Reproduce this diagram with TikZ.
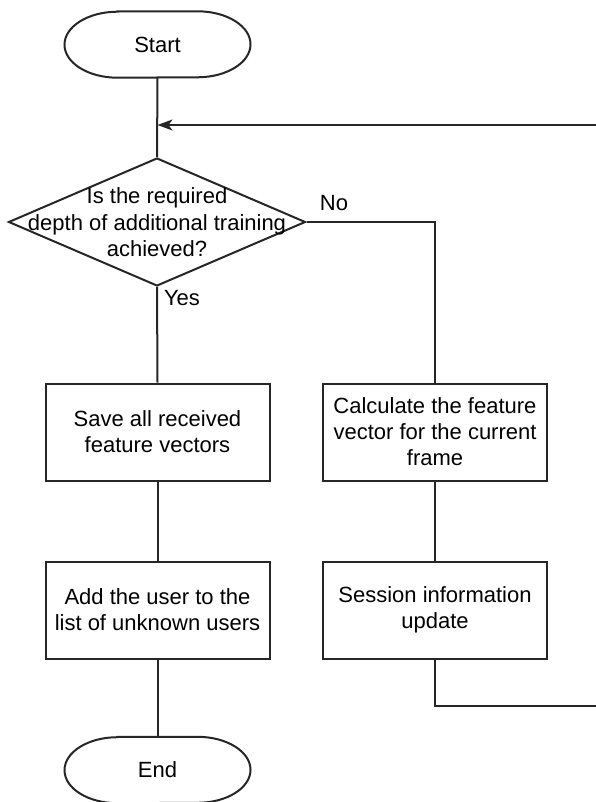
\documentclass[tikz,border=0pt]{standalone}
\usepackage{fontspec}
\setmainfont{Liberation Sans}
\usetikzlibrary{arrows.meta,shapes.geometric}
\begin{document}
\begin{tikzpicture}[x=1pt,y=-1pt,
  line/.style={line width=2pt,draw=black!85},
  term/.style={minimum width=186pt, minimum height=66pt, inner sep=0pt,
    font=\fontsize{22}{26}\selectfont},
  procbox/.style={line, minimum width=224pt, minimum height=97pt, inner sep=0pt, align=center,
    font=\fontsize{22}{26}\selectfont},
  lbl/.style={font=\fontsize{22}{26}\selectfont, inner sep=0pt},
  arr/.style={line, -{Stealth[length=15pt,width=11pt,inset=4pt]}}
]
\useasboundingbox (0,0) rectangle (595,802);
\newcommand\termshape[1]{%
  \draw[line] ([xshift=-40pt]#1.north) -- ([xshift=40pt]#1.north)
    arc[start angle=90,end angle=-90,x radius=53pt,y radius=33pt]
    -- ([xshift=-40pt]#1.south)
    arc[start angle=270,end angle=90,x radius=53pt,y radius=33pt] -- cycle;}
\node[term] (start) at (157.5,44.5) {Start};
\termshape{start}
\coordinate (m) at (157.5,125);
\node[line, diamond, minimum width=297pt, minimum height=128pt, inner sep=0pt] (d) at (157,222) {};
\node[align=center, font=\fontsize{22}{26.5}\selectfont, inner sep=0pt] (dt) at (157,222.5) {Is the required\\depth of additional training\\achieved?};
\node[procbox] (a1) at (157.5,432) {Save all received\\feature vectors};
\node[procbox] (a2) at (157.5,610) {Add the user to the\\list of unknown users};
\node[procbox] (b1) at (435,432) {Calculate the feature\\vector for the current\\frame};
\node[procbox] (b2) at (435,610) {Session information\\update};
\node[term] (end) at (157.5,770) {End};
\termshape{end}
\node[lbl] (no) at (334,203) {No};
\node[lbl] (yes) at (182,298) {Yes};
\coordinate (c1) at (435,706);
\coordinate (c2) at (597,706);
\coordinate (c3) at (597,125);

\draw[line] (start.south) -- (d.north);
\draw[line] (d.south) -- (a1.north);
\draw[line] (a1.south) -- (a2.north);
\draw[line] (a2.south) -- (end.north);
\draw[line] (d.east) -| (b1.north);
\draw[line] (b1.south) -- (b2.north);
\draw[line] (b2.south) -- (c1) -- (c2) -- (c3);
\draw[arr] (c3) -- (m);
\end{tikzpicture}
\end{document}
